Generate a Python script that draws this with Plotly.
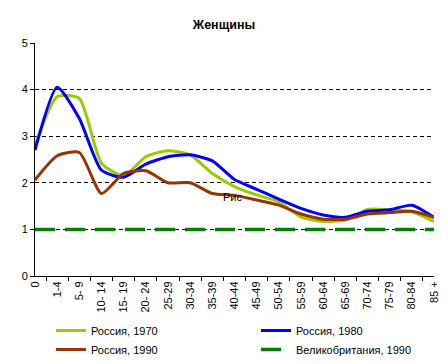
import plotly.graph_objects as go

categories = ["0", "1-4", "5- 9", "10- 14", "15- 19", "20- 24", "25-29", "30-34", "35-39",
              "40-44", "45-49", "50-54", "55-59", "60-64", "65-69", "70-74", "75-79", "80-84", "85 +"]
russia_1970 = [2.80, 3.85, 3.81, 2.42, 2.15, 2.56, 2.69, 2.60, 2.20, 1.92, 1.74, 1.59, 1.27, 1.17, 1.20, 1.43, 1.42, 1.38, 1.17]
russia_1980 = [2.70, 4.05, 3.38, 2.27, 2.12, 2.40, 2.56, 2.60, 2.47, 2.07, 1.86, 1.65, 1.45, 1.31, 1.26, 1.39, 1.42, 1.52, 1.26]
russia_1990 = [2.06, 2.58, 2.65, 1.77, 2.20, 2.26, 2.00, 2.00, 1.77, 1.73, 1.63, 1.52, 1.33, 1.22, 1.22, 1.33, 1.36, 1.39, 1.26]
uk_1990 = [1.0] * 19
y_ticks = [0, 1, 2, 3, 4, 5]

font = "Liberation Sans, Arial, sans-serif"
fig = go.Figure()
fig.add_trace(go.Scatter(x=categories, y=russia_1970, name="Россия, 1970", mode="lines", legend="legend",
                         line=dict(color="#99CC00", width=3, shape="spline", smoothing=0.6)))
fig.add_trace(go.Scatter(x=categories, y=russia_1980, name="Россия, 1980", mode="lines", legend="legend2",
                         line=dict(color="#0000FF", width=3, shape="spline", smoothing=0.6)))
fig.add_trace(go.Scatter(x=categories, y=russia_1990, name="Россия, 1990", mode="lines", legend="legend",
                         line=dict(color="#993300", width=3, shape="spline", smoothing=0.6)))
fig.add_trace(go.Scatter(x=categories, y=uk_1990, name="Великобритания, 1990", mode="lines", legend="legend2",
                         line=dict(color="#008000", width=3.5, dash="20px,10px")))

fig.add_annotation(x=9, y=1.70, text="Рис", showarrow=False, xref="x", yref="y",
                   xshift=-2, font=dict(family=font, size=11, color="black"))

legend_common = dict(orientation="v", xref="container", yref="container", xanchor="left",
                     yanchor="top", tracegroupgap=0, bgcolor="rgba(0,0,0,0)",
                     font=dict(family=font, size=11, color="black"), itemwidth=30)

fig.update_layout(
    width=448, height=364,
    margin=dict(l=35, r=14, t=43, b=88, autoexpand=False),
    paper_bgcolor="white", plot_bgcolor="white",
    font=dict(family=font, size=11, color="black"),
    title=dict(text="<b>Женщины</b>", x=0.5, xanchor="center", y=1 - 25 / 364, yanchor="middle",
               font=dict(family=font, size=12.5, color="black")),
    showlegend=True,
    legend=dict(x=51 / 448, y=1 - 316 / 364, **legend_common),
    legend2=dict(x=256 / 448, y=1 - 316 / 364, **legend_common),
)
fig.update_xaxes(type="category", showline=True, linecolor="black", linewidth=1,
                 ticks="outside", tickson="boundaries", ticklen=4, tickcolor="black",
                 tickangle=-90, showgrid=False, zeroline=False, automargin=False,
                 tickfont=dict(family=font, size=11, color="black"), fixedrange=True)
fig.update_yaxes(range=[0, 5], tickvals=y_ticks, showline=True, linecolor="black", linewidth=1,
                 ticks="outside", ticklen=4, tickcolor="black", automargin=False,
                 showgrid=True, gridcolor="black", gridwidth=1, griddash="4px,3px",
                 zeroline=False, tickfont=dict(family=font, size=11, color="black"))

fig.write_html("out.html", config={"displayModeBar": False},
               post_script="document.body.style.margin='0';document.body.style.overflow='hidden';")
